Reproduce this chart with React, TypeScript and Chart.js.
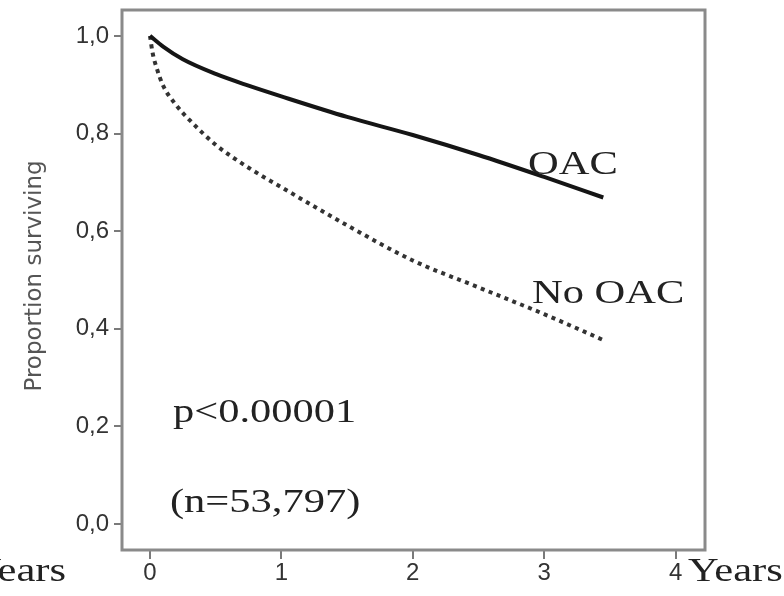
import { useEffect, useRef } from 'react';
import { Chart, registerables } from 'chart.js';

Chart.register(...registerables);

// ---- data ----
const oacYears = [0, 0.1, 0.25, 0.5, 0.75, 1, 1.5, 2, 2.5, 3, 3.45];
const oacSurvival = [1.0, 0.978, 0.952, 0.922, 0.898, 0.876, 0.834, 0.797, 0.756, 0.711, 0.669];

const noOacYears = [0, 0.02, 0.05, 0.1, 0.2, 0.3, 0.5, 0.75, 1, 1.5, 2, 2.5, 3, 3.45];
const noOacSurvival = [1.0, 0.965, 0.935, 0.898, 0.858, 0.828, 0.777, 0.73, 0.69, 0.612, 0.54, 0.485, 0.43, 0.377];

const xTickValues = [0, 1, 2, 3, 4];
const yTickValues = [0, 0.2, 0.4, 0.6, 0.8, 1.0];

const X_MIN = -0.213;
const X_MAX = 4.224;
const Y_MIN = -0.053;
const Y_MAX = 1.053;

const yAxisTitle = 'Proportion surviving';

// annotation texts, positioned in data space
const annotations = [
  { text: 'OAC', x: 2.877, y: 0.717, align: 'left' },
  { text: 'No OAC', x: 2.907, y: 0.453, align: 'left' },
  { text: 'p<0.00001', x: 0.175, y: 0.209, align: 'left' },
  { text: '(n=53,797)', x: 0.152, y: 0.025, align: 'left' },
  { text: 'Years', x: 4.094, y: -0.117, align: 'left' },
  { text: 'Years', x: -0.639, y: -0.117, align: 'right' },
];

const W = 784;
const H = 596;

const SANS = '"Liberation Sans", Arial, sans-serif';
const TITLE_SANS = '"DejaVu Sans", sans-serif';
const SERIF = '"Liberation Serif", "Times New Roman", serif';

const framePlugin = {
  id: 'frame',
  beforeDatasetsDraw(chart: any) {
    const { ctx, chartArea } = chart;
    ctx.save();
    ctx.strokeStyle = '#8a8a8a';
    ctx.lineWidth = 3;
    ctx.strokeRect(chartArea.left, chartArea.top, chartArea.right - chartArea.left, chartArea.bottom - chartArea.top);
    ctx.restore();
  },
};

const textPlugin = {
  id: 'texts',
  afterDraw(chart: any) {
    const { ctx, scales } = chart;
    ctx.save();
    // y axis title
    ctx.save();
    ctx.translate(35, 276);
    ctx.rotate(-Math.PI / 2);
    ctx.font = `23px ${TITLE_SANS}`;
    ctx.fillStyle = '#555';
    ctx.textAlign = 'center';
    ctx.textBaseline = 'middle';
    ctx.fillText(yAxisTitle, 0, 0);
    ctx.restore();

    ctx.font = `34px ${SERIF}`;
    ctx.fillStyle = '#222';
    ctx.textBaseline = 'alphabetic';
    for (const a of annotations) {
      const px = scales.x.getPixelForValue(a.x);
      const py = scales.y.getPixelForValue(a.y);
      ctx.save();
      ctx.translate(px, py);
      ctx.scale(1.25, 1);
      ctx.textAlign = a.align as CanvasTextAlign;
      ctx.fillText(a.text, 0, 0);
      ctx.restore();
    }
    ctx.restore();
  },
};

export default function App() {
  const ref = useRef<HTMLCanvasElement>(null);

  useEffect(() => {
    const chart = new Chart(ref.current!, {
      type: 'line',
      data: {
        datasets: [
          {
            label: 'OAC',
            data: oacYears.map((t, i) => ({ x: t, y: oacSurvival[i] })),
            borderColor: '#151515',
            borderWidth: 4,
            pointRadius: 0,
            cubicInterpolationMode: 'monotone',
            fill: false,
          },
          {
            label: 'No OAC',
            data: noOacYears.map((t, i) => ({ x: t, y: noOacSurvival[i] })),
            borderColor: '#333',
            borderWidth: 4,
            borderDash: [4, 4.5],
            pointRadius: 0,
            cubicInterpolationMode: 'monotone',
            fill: false,
          },
        ],
      },
      options: {
        responsive: false,
        animation: false,
        layout: { padding: { top: 10, right: 79, left: 0, bottom: 0 } },
        plugins: { legend: { display: false }, tooltip: { enabled: false } },
        scales: {
          x: {
            type: 'linear',
            min: X_MIN,
            max: X_MAX,
            afterBuildTicks: (s: any) => {
              s.ticks = xTickValues.map((v) => ({ value: v }));
            },
            afterFit: (s: any) => {
              s.height = H - 550;
              s.paddingLeft = 0;
              s.paddingRight = 0;
            },
            grid: { drawOnChartArea: false, drawTicks: true, tickLength: 9, color: '#7a7a7a', lineWidth: 2 },
            border: { display: false },
            ticks: {
              font: { family: SANS, size: 24 },
              color: '#333',
              padding: 0,
              maxRotation: 0,
              autoSkip: false,
              callback: (v: any) => String(v),
            },
          },
          y: {
            type: 'linear',
            min: Y_MIN,
            max: Y_MAX,
            afterBuildTicks: (s: any) => {
              s.ticks = yTickValues.map((v) => ({ value: v }));
            },
            afterFit: (s: any) => {
              s.width = 122;
              s.paddingTop = 0;
              s.paddingBottom = 0;
            },
            grid: { drawOnChartArea: false, drawTicks: true, tickLength: 8, color: '#7a7a7a', lineWidth: 2 },
            border: { display: false },
            ticks: {
              font: { family: SANS, size: 24 },
              color: '#333',
              padding: 5,
              autoSkip: false,
              callback: (v: any) => Number(v).toFixed(1).replace('.', ','),
            },
          },
        },
      },
      plugins: [framePlugin, textPlugin],
    } as any);
    return () => chart.destroy();
  }, []);

  return (
    <div style={{ position: 'fixed', left: 0, top: 0, width: W, height: H, background: '#fff' }}>
      <canvas ref={ref} width={W} height={H} style={{ width: W, height: H, display: 'block' }} />
    </div>
  );
}
